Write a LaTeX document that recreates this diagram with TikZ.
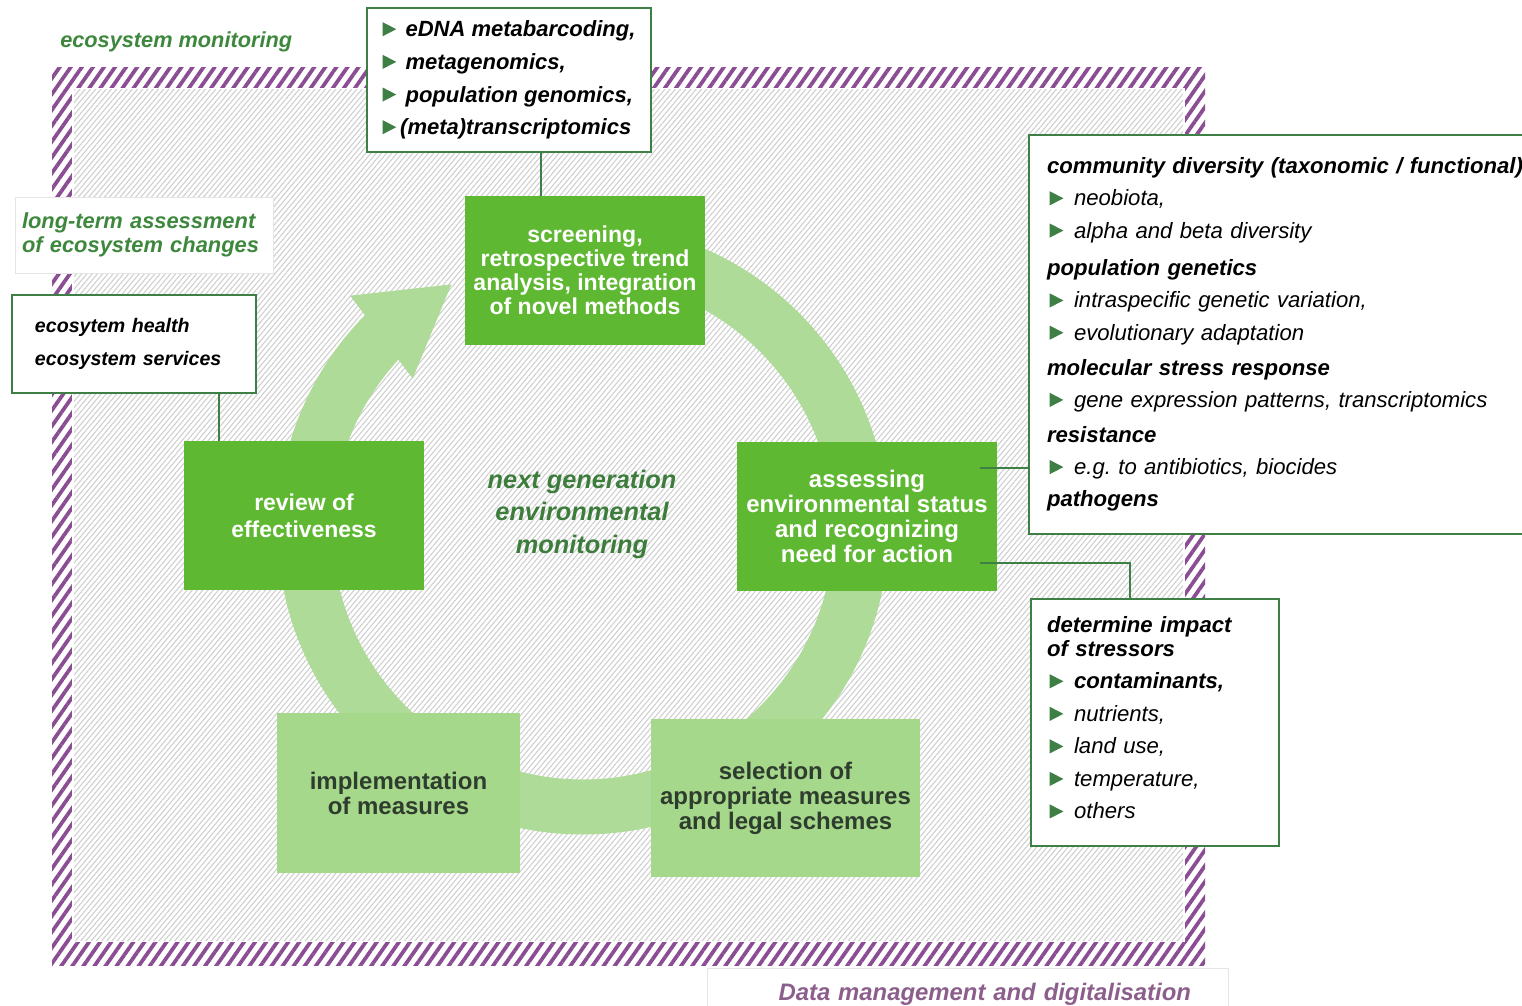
\documentclass[tikz,border=0pt]{standalone}
\usepackage{fontspec}
\setmainfont{Liberation Sans}
\usetikzlibrary{arrows.meta,bending,patterns.meta,positioning}

\definecolor{boxgreen}{HTML}{5FB832}
\definecolor{palegreen}{HTML}{A6D88B}
\definecolor{ringgreen}{HTML}{AEDB97}
\definecolor{linegreen}{HTML}{3D7F45}
\definecolor{labelgreen}{HTML}{3E883E}
\definecolor{centregreen}{HTML}{3C7D3C}
\definecolor{framepurple}{HTML}{8A4C92}
\definecolor{datapurple}{HTML}{8C5E8C}
\definecolor{darktext}{HTML}{2F3D2F}

\newcommand{\bul}{\tikz[baseline=-0.02em]\fill[linegreen] (0,0) -- (0,0.64em) -- (0.62em,0.32em) -- cycle;}
\newcommand{\bulitem}{\hspace*{2pt}\bul\hspace{8pt}}
\frenchspacing

\tikzset{
  stage/.style={fill=boxgreen, text=white, align=center, inner sep=0pt,
    font=\bfseries\fontsize{18}{18.75}\selectfont},
  action/.style={fill=palegreen, text=darktext, align=center, inner sep=0pt,
    font=\bfseries\fontsize{18}{18.75}\selectfont},
  infobox/.style={draw=linegreen, line width=1.5pt, fill=white, align=left,
    inner ysep=0pt},
  softbox/.style={draw=black!10, line width=0.5pt, fill=white, inner ysep=0pt},
  link/.style={linegreen, line width=1.5pt},
  ring/.style={ringgreen, line width=41.25pt,
    -{Triangle[width=72.75pt,length=66.75pt]}}
}

\begin{document}
\begin{tikzpicture}[x=0.75pt,y=-0.75pt]
  \path[use as bounding box, clip] (0,0) rectangle (1522,1006);
  \fill[white] (0,0) rectangle (1522,1006);

  % frame
  \fill[pattern={Lines[angle=55,distance=6.8pt,line width=2.8pt]},
    pattern color=framepurple] (52,68) rectangle (1205,965);
  \fill[white] (72,88) rectangle (1185,942);
  \fill[pattern={Lines[angle=50,distance=3pt,line width=0.8pt]},
    pattern color=gray!38] (74,90) rectangle (1183,940);

  % cycle
  \draw[ring] (583,251) arc[start angle=270, end angle=602, radius=278];

  % stages
  \node[stage, minimum width=180pt, minimum height=111.75pt,
    font=\bfseries\fontsize{17.3}{18}\selectfont] (screen) at (585,270.5)
    {screening,\\retrospective trend\\analysis, integration\\of novel methods};
  \node[stage, minimum width=180pt, minimum height=111.75pt,
    font=\bfseries\fontsize{17.2}{20.25}\selectfont] (review) at (304,515.5)
    {review of\\effectiveness};
  \node[stage, minimum width=195pt, minimum height=111.75pt] (assess) at (867,516.5)
    {assessing\\environmental status\\and recognizing\\need for action};
  \node[action, minimum width=182.25pt, minimum height=120pt] (implement) at (398.5,793)
    {implementation\\of measures};
  \node[action, minimum width=201.75pt, minimum height=118.5pt] (select) at (785.5,798)
    {selection of\\appropriate measures\\and legal schemes};

  \node[text=centregreen, align=center,
    font=\bfseries\itshape\fontsize{19}{24.4}\selectfont] (ngem) at (582,514)
    {next generation\\environmental\\monitoring};

  \node[anchor=west, inner sep=0pt, text=labelgreen,
    font=\bfseries\itshape\fontsize{16.3}{18}\selectfont] (ecomon) at (60,42)
    {ecosystem monitoring};

  % connectors
  \coordinate (m1) at (541,0);
  \coordinate (h1) at (219,0);
  \coordinate (s1) at (1130,0);
  \coordinate (a1) at (980,468);
  \coordinate (a2) at (980,563);

  % boxes
  \node[infobox, minimum width=213pt, minimum height=108pt, inner xsep=0pt,
    font=\bfseries\itshape\fontsize{16.5}{24.5}\selectfont] (methods) at (509,80)
    {\bul\hspace{7pt}eDNA metabarcoding,\\
     \bul\hspace{7pt}metagenomics,\\
     \bul\hspace{7pt}population genomics,\\
     \bul\hspace{3pt}(meta)transcriptomics};

  \node[softbox, minimum width=193.5pt, minimum height=57pt, text width=183pt,
    inner xsep=5.25pt, align=left, text=labelgreen,
    font=\bfseries\itshape\fontsize{16.4}{18}\selectfont] (longterm) at (144,235)
    {long-term assessment\\of ecosystem changes};

  \node[infobox, minimum width=183pt, minimum height=73.5pt, text width=148.5pt,
    inner xsep=17.25pt, font=\bfseries\itshape\fontsize{14.7}{24.75}\selectfont]
    (health) at (134,344) {ecosytem health\\ecosystem services};

  \node[infobox, minimum width=413.25pt, minimum height=299.25pt, text width=386.25pt,
    inner xsep=13.5pt, font=\itshape\fontsize{16.6}{24.2}\selectfont]
    (traits) at (1304.5,334.5)
    {\textbf{community diversity (taxonomic / functional)}\\
     \bulitem neobiota,\\
     \bulitem alpha and beta diversity\\[4pt]
     \textbf{population genetics}\\
     \bulitem intraspecific genetic variation,\\
     \bulitem evolutionary adaptation\\[2pt]
     \textbf{molecular stress response}\\
     \bulitem gene expression patterns, transcriptomics\\[2pt]
     \textbf{resistance}\\
     \bulitem e.g. to antibiotics, biocides\\
     \textbf{pathogens}};

  \node[infobox, minimum width=186pt, minimum height=185.25pt, text width=162pt,
    inner xsep=12pt, font=\itshape\fontsize{16.6}{24.4}\selectfont]
    (stress) at (1155,722.5)
    {\textbf{determine impact}\\[-6.4pt]
     \textbf{of stressors}\\
     \bulitem\textbf{contaminants,}\\
     \bulitem nutrients,\\
     \bulitem land use,\\
     \bulitem temperature,\\
     \bulitem others\strut};

  \node[softbox, minimum width=390.75pt, minimum height=39pt, text width=335.25pt,
    inner xsep=27.75pt, align=right, text=datapurple,
    font=\bfseries\itshape\fontsize{17.9}{20}\selectfont] (data) at (967.5,994)
    {Data management and digitalisation};

  \draw[link] (methods.south -| m1) -- (screen.north -| m1);
  \draw[link] (health.south -| h1) -- (review.north -| h1);
  \draw[link] (a1) -- (a1 -| traits.west);
  \draw[link] (a2) -| (stress.north -| s1);
\end{tikzpicture}
\end{document}
